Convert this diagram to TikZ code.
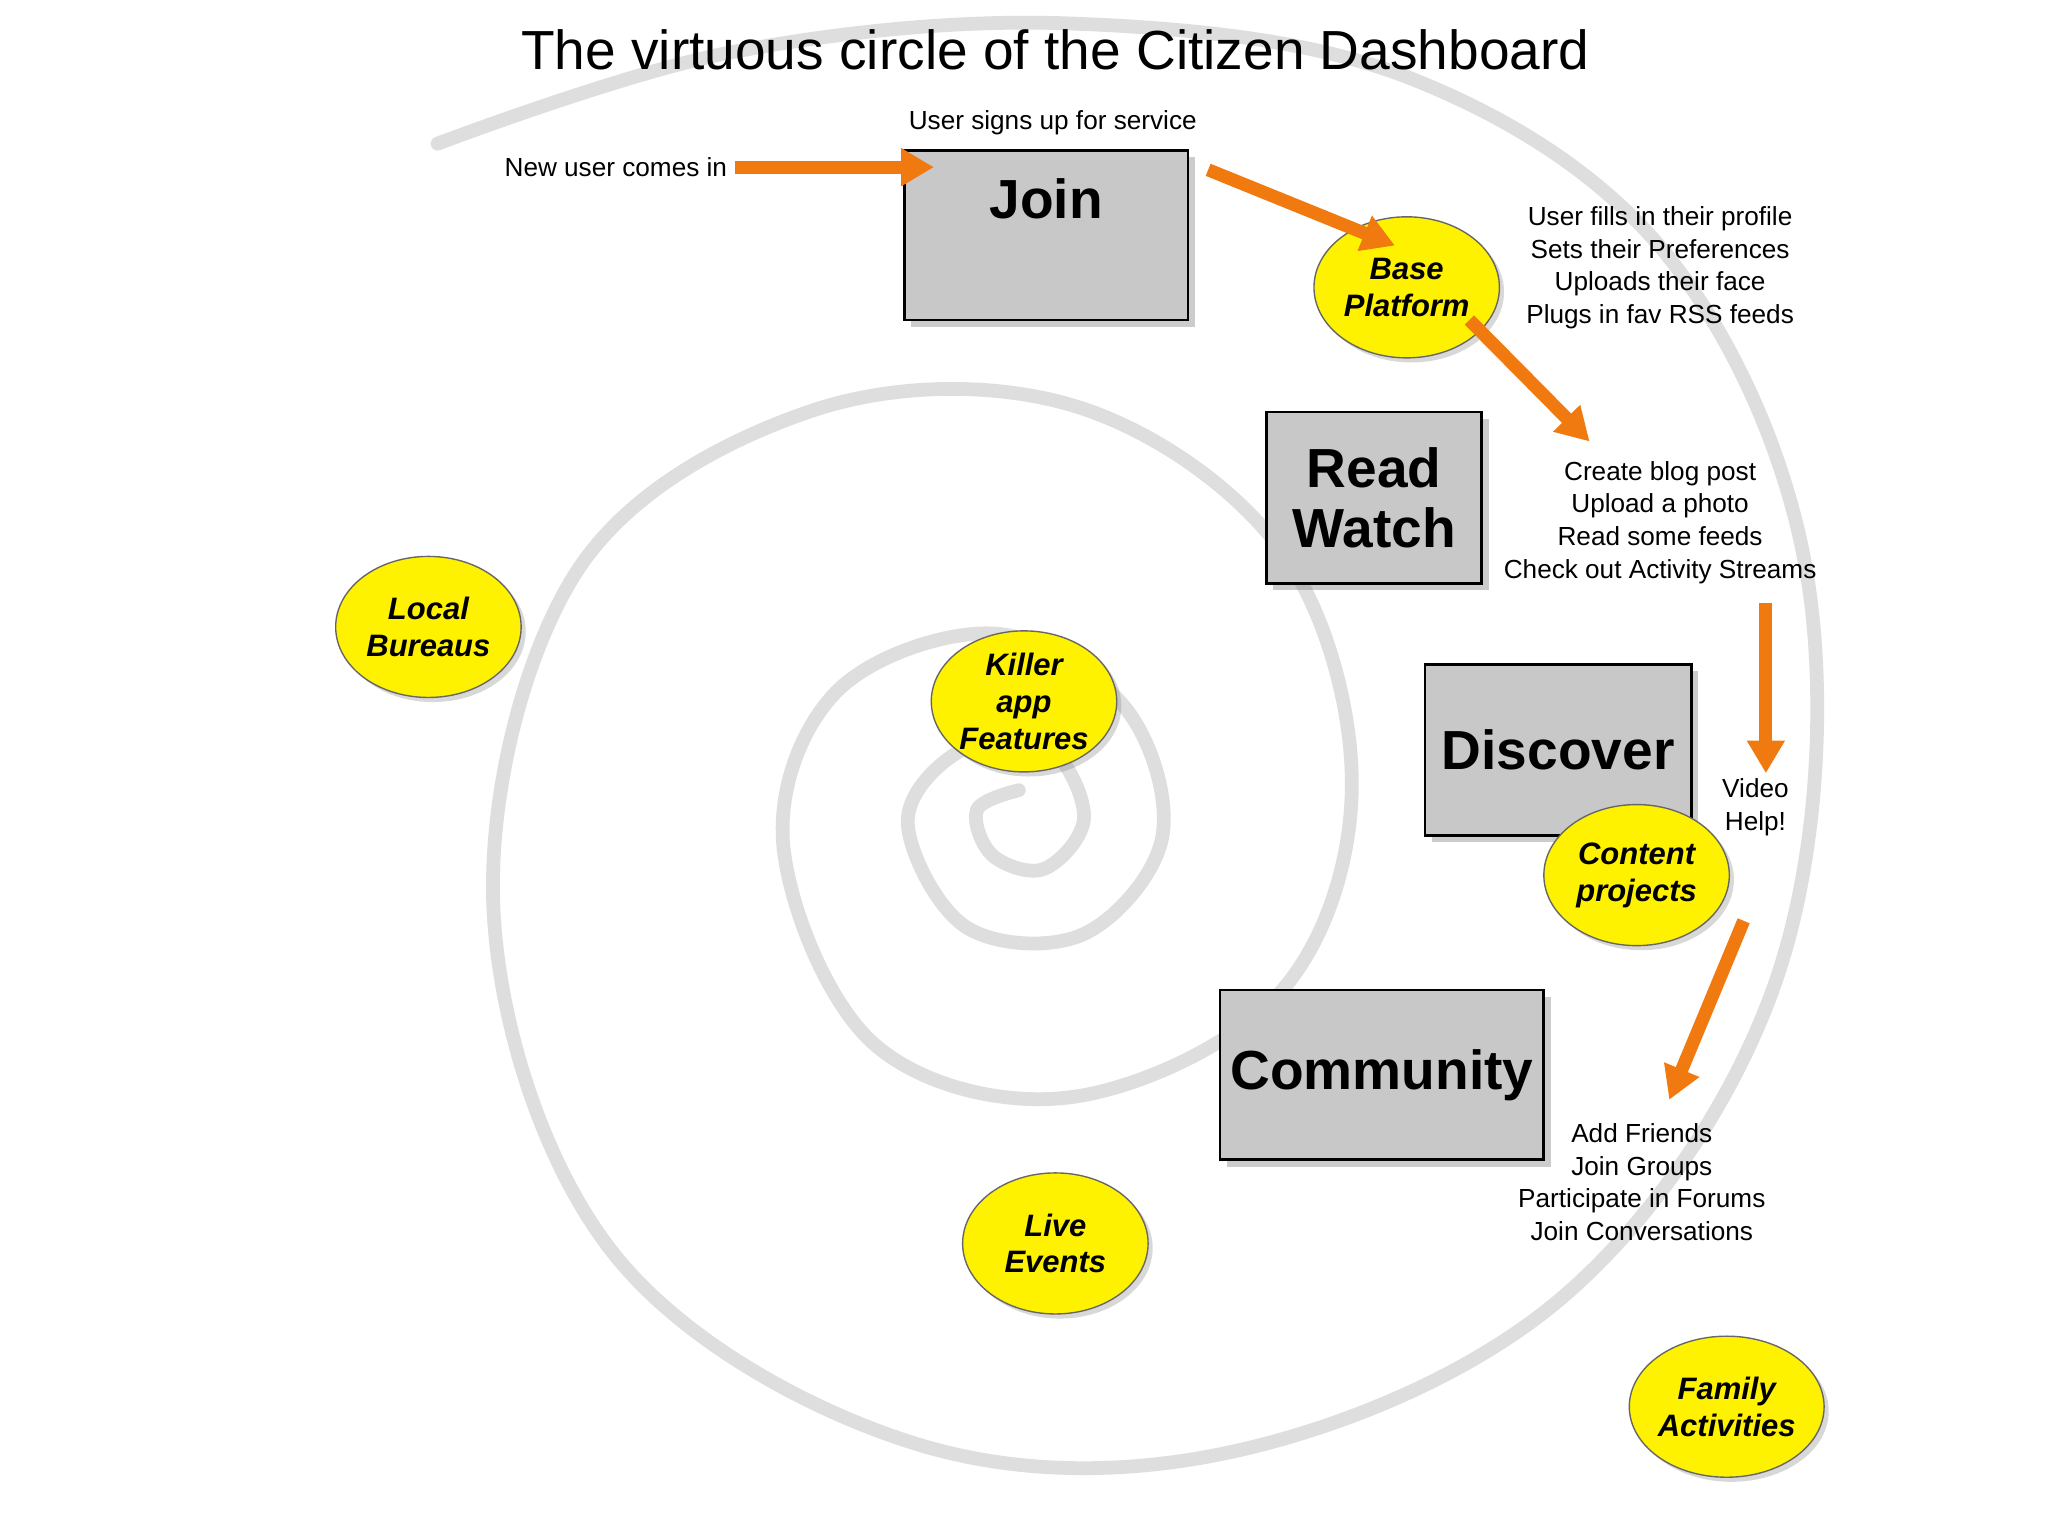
\documentclass[tikz,border=0pt]{standalone}
\usepackage{fontspec}
\setmainfont{Liberation Sans}
\usetikzlibrary{shapes.geometric,arrows.meta,shadows}
\definecolor{boxg}{HTML}{C8C8C8}
\definecolor{yel}{HTML}{FFF200}
\definecolor{org}{HTML}{F07A10}
\definecolor{spir}{HTML}{DEDEDE}
\tikzset{
 box/.style={draw=black,line width=1.2pt,fill=boxg,drop shadow={opacity=0.4,shadow xshift=3pt,shadow yshift=-3pt},font=\fontsize{24}{26}\selectfont\bfseries,align=center,inner sep=0pt},
 ell/.style={ellipse,draw=black!60,line width=0.6pt,fill=yel,minimum width=142*0.02cm,minimum height=108*0.02cm,inner sep=0pt,align=center,font=\fontsize{13.5}{16}\selectfont\bfseries\itshape,drop shadow={opacity=0.3,shadow xshift=2pt,shadow yshift=-2pt}},
 txt/.style={font=\fontsize{11.4}{14.2}\selectfont,align=center,inner sep=0pt},
 arr/.style={org,line width=2mm,-{Triangle[length=5mm,width=5.5mm]}},
}
\begin{document}
\begin{tikzpicture}[x=0.02cm,y=-0.02cm]
\useasboundingbox (0,0) rectangle (1568,1176);
\fill[white] (0,0) rectangle (1568,1176);
\draw[spir,line width=6pt,line cap=round] plot[smooth,tension=0.6] coordinates{
(335,110) (560,40) (820,18) (1080,60) (1280,200) (1385,450) (1360,750) (1200,990) (950,1110) (700,1105) (470,960) (378,700) (440,440) (620,315) (820,310) (980,420) (1035,600) (980,760) (820,840) (670,800) (600,650) (640,530) (760,485) (860,540) (890,640) (830,715) (740,710) (695,630) (735,575) (800,570) (830,625) (800,665) (760,655) (748,620) (780,605)};
\node[font=\fontsize{24}{26}\selectfont] (title) at (808,38) {The virtuous circle of the Citizen Dashboard};
\node[box,minimum width=217*0.02cm,minimum height=130*0.02cm] (join) at (801,180) {};
\node[font=\fontsize{24}{26}\selectfont\bfseries] (jt) at (801,152) {Join};
\node[box,minimum width=165*0.02cm,minimum height=131*0.02cm] (read) at (1052,381) {Read\\Watch};
\node[box,minimum width=204*0.02cm,minimum height=131*0.02cm] (disc) at (1193,574) {Discover};
\node[box,minimum width=248*0.02cm,minimum height=130*0.02cm] (comm) at (1058,823) {Community};
\node[ell] (base) at (1077,220) {Base\\Platform};
\node[ell] (local) at (328,480) {Local\\Bureaus};
\node[ell] (killer) at (784,537) {Killer\\app\\Features};
\node[ell] (content) at (1253,670) {Content\\projects};
\node[ell] (live) at (808,952) {Live\\Events};
\node[ell] (family) at (1322,1077) {Family\\Activities};
\node[txt] (t1) at (806,94) {User signs up for service};
\node[txt,anchor=east] (t2) at (557,128) {New user comes in};
\node[txt] (t3) at (1271,205) {User fills in their profile\\Sets their Preferences\\Uploads their face\\Plugs in fav RSS feeds};
\node[txt] (t4) at (1271,400) {Create blog post\\Upload a photo\\Read some feeds\\Check out Activity Streams};
\node[txt] (t5) at (1344,618) {Video\\Help!};
\node[txt] (t6) at (1257,905) {Add Friends\\Join Groups\\Participate in Forums\\Join Conversations};
\coordinate (a1) at (563,128); \coordinate (a1e) at (715,128);
\coordinate (a2) at (925,130); \coordinate (a2e) at (1068,188);
\coordinate (a3) at (1125,245); \coordinate (a3e) at (1217,338);
\coordinate (a4) at (1352,462); \coordinate (a4e) at (1352,592);
\coordinate (a5) at (1335,705); \coordinate (a5e) at (1278,842);
\foreach \s/\e in {a1/a1e,a2/a2e,a3/a3e,a4/a4e,a5/a5e}
  \draw[arr] (\s) -- (\e);
\end{tikzpicture}
\end{document}
